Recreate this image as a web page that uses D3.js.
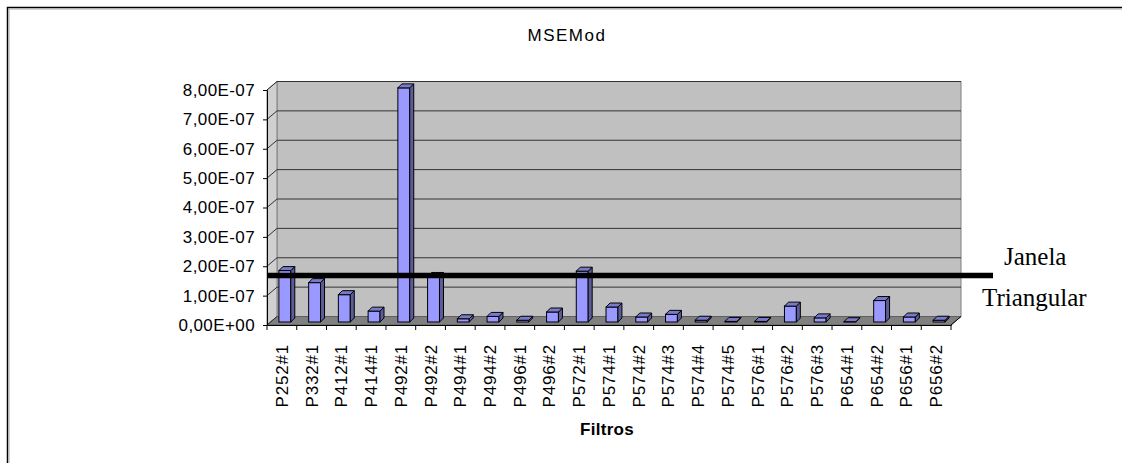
<!DOCTYPE html>
<html><head><meta charset="utf-8">
<script src="https://cdn.jsdelivr.net/npm/d3@7"></script>
<style>body{margin:0;background:#fff;} svg{display:block;}</style>
</head><body>
<svg id="c" width="1122" height="463"></svg>
<script>
const categories = ["P252#1","P332#1","P412#1","P414#1","P492#1","P492#2","P494#1","P494#2","P496#1","P496#2","P572#1","P574#1","P574#2","P574#3","P574#4","P574#5","P576#1","P576#2","P576#3","P654#1","P654#2","P656#1","P656#2"];
const values = [1.75e-7,1.34e-7,0.93e-7,0.37e-7,7.97e-7,1.55e-7,0.11e-7,0.19e-7,0.06e-7,0.34e-7,1.73e-7,0.51e-7,0.17e-7,0.26e-7,0.06e-7,0.02e-7,0.02e-7,0.54e-7,0.14e-7,0.01e-7,0.73e-7,0.17e-7,0.06e-7];
const yTicks = [0,1e-7,2e-7,3e-7,4e-7,5e-7,6e-7,7e-7,8e-7];
const thresholdValue = 1.57e-7;
const title = "MSEMod";
const xTitle = "Filtros";
const noteLines = ["Janela","Triangular"];

const svg = d3.select("#c");
const L = 267, R = 951, B = 325, T = 90;
const DX = 10, DY = -8.5;
const x = d3.scaleBand().domain(categories).range([L, R]).padding(0);
const y = d3.scaleLinear().domain([0, 8e-7]).range([B, T]);
const bw = x.bandwidth();
const SANS = "Liberation Sans, Arial, sans-serif";

function fmt(v){
  if (v === 0) return "0,00E+00";
  let e = Math.floor(Math.log10(v) + 1e-9);
  let m = v / Math.pow(10, e);
  let s = m.toFixed(2).replace(".", ",");
  let es = (e < 0 ? "-" : "+") + String(Math.abs(e)).padStart(2, "0");
  return s + "E" + es;
}

// outer border
svg.append("path").attr("d", `M7.5,470 V7.5 H1130`).attr("fill","none").attr("stroke","#000").attr("stroke-width",1.5);
svg.append("path").attr("d", `M9,470 V9 H1130`).attr("fill","none").attr("stroke","#aaa").attr("stroke-width",1);

// back wall
svg.append("rect").attr("x", L+DX).attr("y", T+DY).attr("width", R-L).attr("height", B-T)
  .attr("fill","#c0c0c0").attr("stroke","#808080").attr("stroke-width",1);
// side wall
svg.append("path").attr("d", `M${L},${B} L${L},${T} L${L+DX},${T+DY} L${L+DX},${B+DY} Z`)
  .attr("fill","#d0d0d0").attr("stroke","#808080").attr("stroke-width",1);
// floor
svg.append("path").attr("d", `M${L},${B} L${R},${B} L${R+DX},${B+DY} L${L+DX},${B+DY} Z`)
  .attr("fill","#808080").attr("stroke","#606060").attr("stroke-width",1);

// gridlines
const g = svg.append("g");
yTicks.forEach(v => {
  if (v > 0) {
    g.append("line").attr("x1", L+DX).attr("x2", R+DX).attr("y1", y(v)+DY).attr("y2", y(v)+DY)
      .attr("stroke","#333").attr("stroke-width",1);
  }
  g.append("line").attr("x1", L).attr("y1", y(v)).attr("x2", L+DX).attr("y2", y(v)+DY)
    .attr("stroke","#333").attr("stroke-width",1);
});

// y axis
const yAxis = d3.axisLeft(y).tickValues(yTicks).tickFormat(fmt).tickSize(4).tickPadding(8);
const ya = svg.append("g").attr("transform", `translate(${L},0)`).call(yAxis);
ya.select(".domain").attr("stroke","#000");
ya.selectAll("text").attr("font-family",SANS).attr("font-size",17).attr("letter-spacing","0.4px").attr("fill","#000");

// x axis
const xAxis = d3.axisBottom(x).tickSize(0).tickPadding(0).tickFormat("");
const xa = svg.append("g").attr("transform", `translate(0,${B})`).call(xAxis);
xa.select(".domain").attr("stroke","#000");
const bounds = categories.map(c => x(c)).concat([R]);
bounds.forEach(bx => {
  svg.append("line").attr("x1", bx).attr("x2", bx).attr("y1", B).attr("y2", B+5).attr("stroke","#000");
});
svg.append("line").attr("x1", R).attr("y1", B).attr("x2", R+DX).attr("y2", B+DY).attr("stroke","#000");

svg.append("g").selectAll("text").data(categories).join("text")
  .attr("transform", c => `translate(${x(c)+bw/2},344) rotate(-90)`)
  .attr("dy","0.35em").attr("text-anchor","end")
  .attr("font-family",SANS).attr("font-size",17).attr("letter-spacing","0.8px")
  .text(c => c);

// bars
const bdx = 4, bdy = -4, off = 3;
const bars = svg.append("g");
categories.forEach((c, i) => {
  const v = values[i];
  const x0 = x(c) + 0.4*bw, w = 0.4*bw;
  const yb = y(0) - off, yt = y(v) - off;
  bars.append("rect").attr("x", x0).attr("y", yt).attr("width", w).attr("height", Math.max(0, yb-yt))
    .attr("fill","#9999ff").attr("stroke","#000").attr("stroke-width",1);
  bars.append("path").attr("d", `M${x0+w},${yb} L${x0+w+bdx},${yb+bdy} L${x0+w+bdx},${yt+bdy} L${x0+w},${yt} Z`)
    .attr("fill","#5c5c99").attr("stroke","#000").attr("stroke-width",1);
  bars.append("path").attr("d", `M${x0},${yt} L${x0+bdx},${yt+bdy} L${x0+w+bdx},${yt+bdy} L${x0+w},${yt} Z`)
    .attr("fill","#7a7acc").attr("stroke","#000").attr("stroke-width",1);
});

// threshold line
const ty = y(thresholdValue) - 3.5;
svg.append("line").attr("x1", L).attr("x2", 993).attr("y1", ty).attr("y2", ty)
  .attr("stroke","#000").attr("stroke-width",5.5);

// titles
svg.append("text").attr("x", 567).attr("y", 41).attr("text-anchor","middle")
  .attr("font-family",SANS).attr("font-size",17).attr("letter-spacing","1.5px").text(title);
svg.append("text").attr("x", 607).attr("y", 435).attr("text-anchor","middle")
  .attr("font-family",SANS).attr("font-size",17).attr("font-weight","bold").attr("letter-spacing","0.3px").text(xTitle);

svg.append("text").attr("x", 1004).attr("y", 265)
  .attr("font-family","Liberation Serif, serif").attr("font-size",25).text(noteLines[0]);
svg.append("text").attr("x", 982).attr("y", 306)
  .attr("font-family","Liberation Serif, serif").attr("font-size",25).text(noteLines[1]);
</script>
</body></html>
